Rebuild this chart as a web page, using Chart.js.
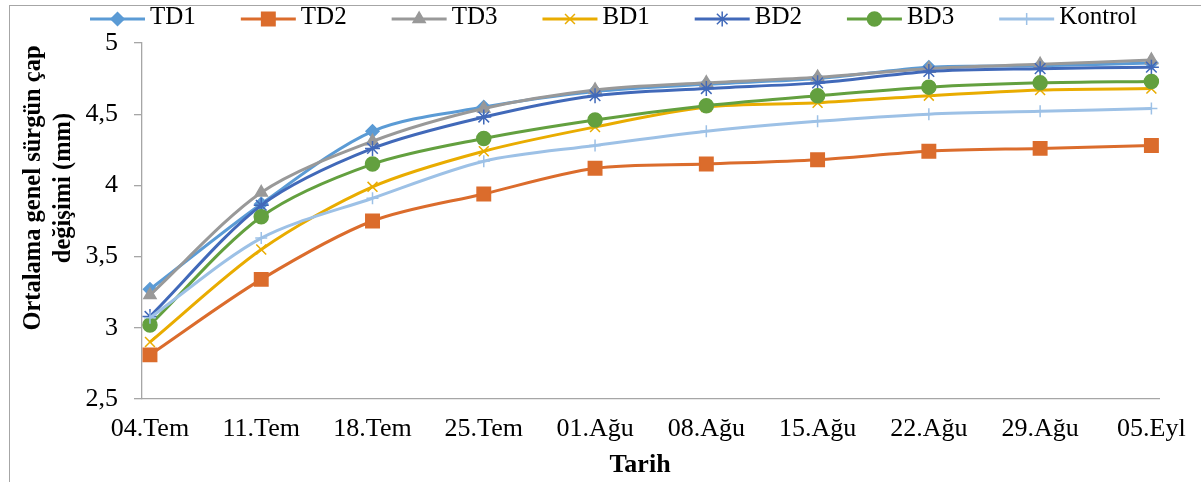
<!DOCTYPE html>
<html>
<head>
<meta charset="utf-8">
<script src="https://cdn.jsdelivr.net/npm/chart.js@4"></script>
<style>
    html, body { margin: 0; padding: 0; background: #fff; overflow: hidden; }
    #wrap { position: relative; width: 1201px; height: 482px; }
    #frame { position: absolute; left: 9px; top: 5px; width: 1201px; height: 482px;
             border-left: 1px solid #A6A6A6; border-top: 1px solid #A6A6A6; }
    canvas { position: absolute; left: 0; top: 0; }
</style>
</head>
<body>
<div id="wrap">
    <div id="frame"></div>
    <canvas id="chart" width="1201" height="482"></canvas>
</div>
<script>
// --- 데이터
const dates   = ["04.Tem", "11.Tem", "18.Tem", "25.Tem", "01.Ağu",
                 "08.Ağu", "15.Ağu", "22.Ağu", "29.Ağu", "05.Eyl"];
const td1     = [3.27, 3.87, 4.38, 4.55, 4.66, 4.71, 4.75, 4.83, 4.84, 4.86];
const td2     = [2.81, 3.34, 3.75, 3.94, 4.12, 4.15, 4.18, 4.24, 4.26, 4.28];
const td3     = [3.23, 3.95, 4.31, 4.54, 4.67, 4.72, 4.76, 4.82, 4.85, 4.88];
const bd1     = [2.90, 3.55, 3.99, 4.24, 4.41, 4.55, 4.58, 4.63, 4.67, 4.68];
const bd2     = [3.08, 3.86, 4.26, 4.48, 4.63, 4.68, 4.72, 4.80, 4.82, 4.83];
const bd3     = [3.02, 3.78, 4.15, 4.33, 4.46, 4.56, 4.63, 4.69, 4.72, 4.73];
const kontrol = [3.07, 3.63, 3.91, 4.17, 4.28, 4.38, 4.45, 4.50, 4.52, 4.54];
const yTicks  = [2.5, 3, 3.5, 4, 4.5, 5];

const FONT = "'Liberation Serif', 'Times New Roman', serif";

const series = [
    { label: "TD1",     data: td1,     color: "#5B9BD5", style: "rectRot",  r: 6.5 },
    { label: "TD2",     data: td2,     color: "#DB6C2C", style: "rect",     r: 9.5 },
    { label: "TD3",     data: td3,     color: "#999999", style: "triangle", r: 7   },
    { label: "BD1",     data: bd1,     color: "#E9AC00", style: "crossRot", r: 7   },
    { label: "BD2",     data: bd2,     color: "#4169B9", style: "star",     r: 7.5 },
    { label: "BD3",     data: bd3,     color: "#63A03F", style: "circle",   r: 7   },
    { label: "Kontrol", data: kontrol, color: "#9DC1E6", style: "cross",    r: 6   },
];

const datasets = series.map((s, i) => ({
    label: s.label,
    data: s.data.map((v, j) => ({ x: j, y: v })),
    borderColor: s.color,
    backgroundColor: s.color,
    borderWidth: 3,
    tension: 0.3,
    pointStyle: s.style,
    pointRadius: s.r,
    pointBorderWidth: 1.5,
    pointBackgroundColor: s.color,
    pointBorderColor: s.color,
    order: series.length - i,   // 뒤 계열이 위에 그려지도록
}));

// 범례 + 축 제목
const decor = {
    id: "decor",
    afterDraw(chart) {
        const ctx = chart.ctx;
        ctx.save();
        // 범례
        ctx.font = "25px " + FONT;
        ctx.textBaseline = "middle";
        ctx.textAlign = "left";
        let x = 90;
        const ly = 19;
        for (const s of series) {
            ctx.strokeStyle = s.color;
            ctx.fillStyle = s.color;
            ctx.lineWidth = 3;
            ctx.beginPath();
            ctx.moveTo(x, ly);
            ctx.lineTo(x + 55, ly);
            ctx.stroke();
            ctx.lineWidth = 1.5;
            Chart.helpers.drawPoint(ctx, { pointStyle: s.style, radius: s.r, rotation: 0, borderWidth: 1.5 },
                                    x + 27.5, ly);
            ctx.fillStyle = "#000";
            ctx.fillText(s.label, x + 60, ly - 1.5);
            x += 60 + ctx.measureText(s.label).width + 45;
        }
        // y축 제목
        ctx.font = "bold 24.5px " + FONT;
        ctx.textAlign = "center";
        ctx.fillStyle = "#000";
        ctx.translate(0, 188);
        ctx.rotate(-Math.PI / 2);
        ctx.fillText("Ortalama genel sürgün çap", 0, 34);
        ctx.fillText("değişimi (mm)", 0, 64);
        ctx.restore();
        // x축 제목
        ctx.save();
        ctx.font = "bold 26px " + FONT;
        ctx.textAlign = "center";
        ctx.textBaseline = "middle";
        ctx.fillStyle = "#000";
        ctx.fillText("Tarih", 640, 465);
        ctx.restore();
    },
};

new Chart(document.querySelector("#chart"), {
    type: "line",
    data: { datasets },
    options: {
        responsive: false,
        animation: false,
        layout: { padding: { left: 0, right: 38, top: 43, bottom: 0 } },
        plugins: { legend: { display: false }, tooltip: { enabled: false } },
        scales: {
            x: {
                type: "linear",
                min: -0.0716, max: 9.0716,
                afterBuildTicks: s => { s.ticks = dates.map((_, i) => ({ value: i })); },
                afterFit: s => { s.height = 83; },
                grid: { display: false, drawTicks: false },
                border: { display: true, color: "#A6A6A6", width: 1.3 },
                ticks: {
                    padding: 15,
                    color: "#000",
                    font: { family: FONT, size: 26 },
                    autoSkip: false, maxRotation: 0,
                    callback: v => dates[v],
                },
            },
            y: {
                min: 2.5, max: 5,
                afterBuildTicks: s => { s.ticks = yTicks.map(v => ({ value: v })); },
                afterFit: s => { s.width = 142; },
                grid: { drawOnChartArea: false, drawTicks: true, tickLength: 8, color: "#A6A6A6", lineWidth: 1.3 },
                border: { display: true, color: "#A6A6A6", width: 1.3 },
                ticks: {
                    padding: 16,
                    color: "#000",
                    font: { family: FONT, size: 26 },
                    callback: v => String(v).replace(".", ","),
                },
            },
        },
    },
    plugins: [decor],
});
</script>
</body>
</html>
